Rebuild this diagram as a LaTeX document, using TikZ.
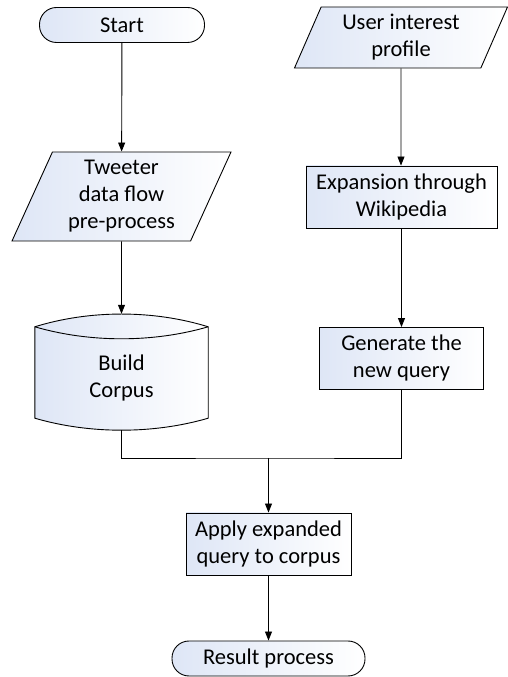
\documentclass[tikz,border=0pt]{standalone}
\usepackage{fontspec}
\setmainfont{Carlito}
\usepackage{xcolor}
\usepackage{tikz}
\definecolor{shadeblue}{RGB}{222, 230, 246}
\usetikzlibrary{shapes, arrows.meta, positioning, backgrounds, calc}

\begin{document}
\begin{tikzpicture}[
    x=1pt, y=1pt,
    font=\fontsize{22.5}{27}\selectfont,
    base/.style={draw, line width=0.9pt, left color=shadeblue, right color=white, align=center, inner sep=2pt},
    terminal/.style={base, rectangle, rounded corners=17pt, minimum height=35pt},
    io/.style={base, trapezium, trapezium left angle=62, trapezium right angle=118, trapezium stretches body},
    process/.style={base, rectangle, minimum height=62pt},
    store/.style={align=center, minimum width=173pt, minimum height=79pt, inner sep=0pt},
    line/.style={line width=0.9pt},
    arrow/.style={line, -{Triangle[length=9pt, width=7pt]}}
]
    \useasboundingbox (0,0) rectangle (508,677);

    % Left column
    \node[terminal, minimum width=165pt] (start) at (122, 652) {Start};
    \node[io, minimum width=219pt, minimum height=89pt] (tweet) at (121.5, 480.5) {Tweeter\\data flow\\pre-process};
    \node[store] (corpus) at (121.5, 298.5) {Build\\Corpus};
    \coordinate (corpustop) at ([yshift=25pt]corpus.north);
    \coordinate (corpusbot) at ([yshift=-12pt]corpus.south);
    \begin{scope}[on background layer]
        \path[base] ([yshift=12pt]corpus.north west) .. controls +(55,17) and +(-55,17) .. ([yshift=12pt]corpus.north east)
            -- (corpus.south east) .. controls +(-55,-16) and +(55,-16) .. (corpus.south west) -- cycle;
        \draw[line] ([yshift=12pt]corpus.north west) .. controls +(55,-16) and +(-55,-16) .. ([yshift=12pt]corpus.north east);
    \end{scope}

    % Right column
    \node[io, minimum width=213pt, minimum height=61pt] (user) at (401, 639.5) {User interest\\profile};
    \node[process, minimum width=191pt] (expand) at (401.5, 480) {Expansion through\\Wikipedia};
    \node[process, minimum width=164pt] (query) at (401.5, 318.5) {Generate the\\new query};

    % Bottom
    \coordinate (join) at (268.5, 219);
    \node[process, minimum width=165pt] (apply) at (268.5, 133) {Apply expanded\\query to corpus};
    \node[terminal, minimum width=193pt] (result) at (268.5, 18.5) {Result process};

    % Arrows
    \draw[arrow] (start) -- (tweet);
    \draw[arrow] (tweet) -- (corpustop);
    \draw[arrow] (user) -- (user |- expand.north);
    \draw[arrow] (expand) -- (query);
    \draw[line] (corpusbot) |- (join) -| (query.south);
    \draw[arrow] (join) -- (apply);
    \draw[arrow] (apply) -- (result);
\end{tikzpicture}
\end{document}
